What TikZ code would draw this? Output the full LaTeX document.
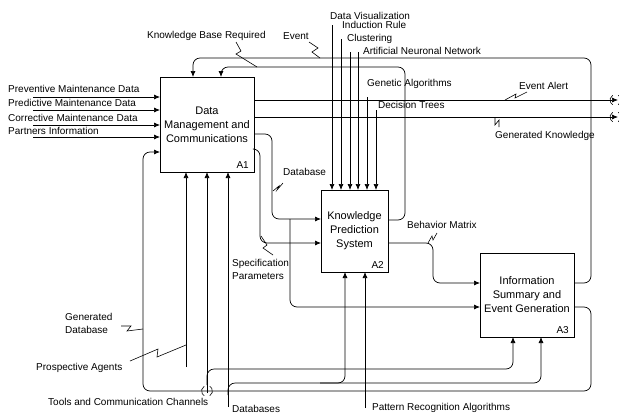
\documentclass[tikz,border=0pt]{standalone}
\usepackage{fontspec}
\setmainfont{Liberation Sans}
\usetikzlibrary{arrows.meta}
\tikzset{
  blk/.style={draw, line width=0.8pt, inner sep=0pt, outer sep=0pt, align=center, font=\fontsize{11}{14}\selectfont},
  lbl/.style={anchor=west, inner sep=0pt, align=left, font=\fontsize{10}{13}\selectfont},
  tag/.style={anchor=south east, inner sep=0pt, font=\fontsize{10}{12}\selectfont},
  flow/.style={line width=0.7pt, rounded corners=7pt, -{Latex[length=6pt,width=5pt]}},
  zig/.style={line width=0.6pt},
}
\newcommand{\tunmark}[1]{%
  \draw[zig] (#1) ++(120:5.5pt) arc[start angle=120, end angle=240, radius=5.5pt];
  \draw[zig] (#1) ++(-60:5.5pt) arc[start angle=-60, end angle=60, radius=5.5pt];}
\begin{document}
\begin{tikzpicture}[x=1pt, y=-1pt]
\useasboundingbox (0,0) rectangle (619,416);

\node[blk, minimum width=94pt, minimum height=95pt] at (207,124.5) (a1) {Data\\Management and\\Communications};
\node[blk, minimum width=67pt, minimum height=82pt] at (354.5,231) (a2) {Knowledge\\Prediction\\System};
\node[blk, minimum width=94pt, minimum height=84pt] at (527,295) (a3) {Information\\Summary and\\Event Generation};
\node[tag] at ([xshift=-5pt,yshift=3pt]a1.south east) (t1) {A1};
\node[tag] at ([xshift=-4pt,yshift=3pt]a2.south east) (t2) {A2};
\node[tag] at ([xshift=-5pt,yshift=3pt]a3.south east) (t3) {A3};

\node[lbl] at (8,89) (prev) {Preventive Maintenance Data};
\node[lbl] at (8,103) (pred) {Predictive Maintenance Data};
\node[lbl] at (8,118) (corr) {Corrective Maintenance Data};
\node[lbl] at (8,131) (part) {Partners Information};
\coordinate (p1) at (33,97);
\coordinate (p2) at (33,110);
\coordinate (p3) at (33,125);
\coordinate (p4) at (33,137);
\foreach \i in {1,...,4} \draw[flow] (p\i) -- (p\i -| a1.west);

\node[lbl] at (330,16) (dv) {Data Visualization};
\node[lbl] at (342,25) (ir) {Induction Rule};
\node[lbl] at (347,39) (clu) {Clustering};
\node[lbl] at (363,51) (ann) {Artificial Neuronal Network};
\node[lbl] at (367,84) (ga) {Genetic Algorithms};
\node[lbl] at (378,105) (dt) {Decision Trees};
\coordinate (c1) at (332,25);
\coordinate (c2) at (341,39);
\coordinate (c3) at (350,52);
\coordinate (c4) at (358,52);
\coordinate (c5) at (367,97);
\coordinate (c6) at (376,110);
\foreach \i in {1,...,6} \draw[flow] (c\i) -- (c\i |- a2.north);

\node[lbl] at (519,86) (alert) {Event Alert};
\node[lbl] at (495,136) (genk) {Generated Knowledge};
\coordinate (q1) at (618,100);
\coordinate (q2) at (618,117);
\draw[flow] (q1 -| a1.east) -- (q1);
\draw[flow] (q2 -| a1.east) -- (q2);
\coordinate (tn1) at (615.5,100);
\coordinate (tn2) at (615.5,117);
\tunmark{tn1}
\tunmark{tn2}
\draw[zig] (505,100) -- (516,94) -- (515,98) -- (527,92);
\draw[zig] (495,117) -- (495,125) -- (499,120) -- (499,127);

\node[lbl] at (283,172) (dbase) {Database};
\coordinate (db1) at (272,134);
\coordinate (db2) at (272,219);
\draw[flow] (db1 -| a1.east) -- (db1) -- (db2) -- (db2 -| a2.west);
\coordinate (db3) at (290,219);
\coordinate (db4) at (290,307);
\draw[flow] (db3) -- (db4) -- (db4 -| a3.west);
\draw[zig] (273,191) -- (279,186) -- (277,190) -- (283,183);

\node[lbl] at (232,269) (spec) {Specification\\Parameters};
\coordinate (sp1) at (260,149);
\coordinate (sp2) at (260,243);
\draw[flow] (sp1 -| a1.east) -- (sp1) -- (sp2) -- (sp2 -| a2.west);
\draw[zig] (261,236) -- (267,245) -- (263,248) -- (273,255);

\node[lbl] at (147,36) (kbr) {Knowledge Base Required};
\coordinate (kb1) at (405,220);
\coordinate (kb2) at (405,67);
\coordinate (kb3) at (221,67);
\draw[flow] (kb1 -| a2.east) -- (kb1) -- (kb2) -- (kb3) -- (kb3 |- a1.north);
\draw[zig] (236,42) -- (241,51) -- (236,54) -- (257,67);

\node[lbl] at (407,225) (bm) {Behavior Matrix};
\coordinate (bm1) at (433,243);
\coordinate (bm2) at (433,283);
\draw[flow] (bm1 -| a2.east) -- (bm1) -- (bm2) -- (bm2 -| a3.west);
\draw[zig] (428,243) -- (432,236) -- (433,240) -- (437,233);

\node[lbl] at (283,36) (event) {Event};
\coordinate (ev1) at (591,283);
\coordinate (ev2) at (591,58);
\coordinate (ev3) at (193,58);
\draw[flow] (ev1 -| a3.east) -- (ev1) -- (ev2) -- (ev3) -- (ev3 |- a1.north);
\draw[zig] (309,42) -- (318,48) -- (312,52) -- (320,58);

\node[lbl] at (65,323) (gdb) {Generated\\Database};
\coordinate (gd1) at (591,307);
\coordinate (gd2) at (591,391);
\coordinate (gd3) at (143,391);
\coordinate (gd4) at (143,152);
\draw[flow] (gd1 -| a3.east) -- (gd1) -- (gd2) -- (gd3) -- (gd4) -- (gd4 -| a1.west);
\draw[zig] (121,326) -- (131,326) -- (127,331) -- (143,329);

\node[lbl] at (36,368) (pros) {Prospective Agents};
\coordinate (pa) at (186,367);
\draw[flow] (pa) -- (pa |- a1.south);
\draw[zig] (130,361) -- (158,349) -- (157,357) -- (186,345);

\node[lbl] at (48,402) (tools) {Tools and Communication Channels};
\coordinate (tc) at (207,393);
\draw[flow] (tc) -- (tc |- a1.south);
\coordinate (tc1) at (207,385);
\coordinate (tc2) at (513,369);
\draw[flow] (tc1) |- (tc2) -- (tc2 |- a3.south);
\coordinate (tn3) at (207,391);
\tunmark{tn3}

\node[lbl] at (232,409) (dbs) {Databases};
\coordinate (ds) at (228,407);
\draw[flow] (ds) -- (ds |- a1.south);
\coordinate (ds1) at (228,395);
\coordinate (ds2) at (541,383);
\draw[flow] (ds1) |- (ds2) -- (ds2 |- a3.south);
\coordinate (ds3) at (320,383);
\coordinate (ds4) at (345,383);
\draw[flow] (ds3) -- (ds4) -- (ds4 |- a2.south);

\node[lbl] at (372,408) (pra) {Pattern Recognition Algorithms};
\coordinate (pr) at (365,408);
\draw[flow] (pr) -- (pr |- a2.south);
\end{tikzpicture}
\end{document}
